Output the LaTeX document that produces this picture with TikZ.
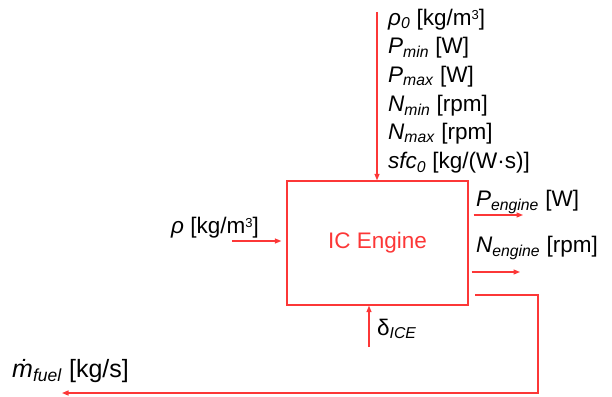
\documentclass[tikz,border=0pt]{standalone}
\usepackage{fontspec}
\setmainfont{Liberation Sans}
\usetikzlibrary{arrows.meta,positioning}
\definecolor{engred}{RGB}{252,55,55}
\newcommand{\varsub}[2]{\textit{#1}\textsubscript{\textit{#2}}}
\newcommand{\cubed}{\raisebox{0.45ex}{\fontsize{13}{13}\selectfont 3}}

\begin{document}
\begin{tikzpicture}[x=1pt, y=-1pt,
  >={Triangle[length=6.5pt,width=5pt]},
  font=\fontsize{22.5}{28.7}\selectfont,
  enginebox/.style={draw=engred, line width=1.3pt, minimum width=181pt,
                    minimum height=124pt, inner sep=0pt, text=engred},
  sig/.style={->, draw=engred, line width=1.3pt},
  lbl/.style={inner sep=0pt, anchor=base west},
]
\useasboundingbox (0,0) rectangle (612,396);

% Engine block
\node[enginebox] (ice) at (377.5,243) {IC Engine};

% Parameters from above
\coordinate (ptop) at (377,12);
\draw[sig] (ptop) -- (ptop |- ice.north);
\node[lbl, align=left, anchor=north west] (params) at (388,8.5)
  {\textit{ρ}\textsubscript{\textit{0}} [kg/m\cubed]\\
   \varsub{P}{min} [W]\\
   \varsub{P}{max} [W]\\
   \varsub{N}{min} [rpm]\\
   \varsub{N}{max} [rpm]\\
   \varsub{sfc}{0} [kg/(W·s)]};

% Ambient density input
\coordinate (rhoin) at (232,241);
\draw[sig, shorten >=5pt] (rhoin) -- (rhoin -| ice.west);
\node[lbl] (rholbl) at (171,233) {\textit{ρ} [kg/m\cubed]};

% Throttle input
\coordinate (dctl) at (369,347);
\draw[sig] (dctl) -- (dctl |- ice.south);
\node[lbl] (dlbl) at (377,335) {δ\textsubscript{\textit{ICE}}};

% Outputs
\coordinate (pout) at (523,215);
\draw[sig, shorten <=5pt] (ice.east |- pout) -- (pout);
\node[lbl] (plbl) at (476,206) {\varsub{P}{engine} [W]};

\coordinate (nout) at (520,272);
\draw[sig, shorten <=3pt] (ice.east |- nout) -- (nout);
\node[lbl] (nlbl) at (476,252) {\varsub{N}{engine} [rpm]};

% Fuel flow, routed round the bottom
\coordinate (fuelout) at (475,295);
\coordinate (fuelend) at (62,393);
\draw[sig] (fuelout) -- ++(63,0) |- (fuelend);
\node[lbl, font=\fontsize{25}{30}\selectfont] (mlbl) at (12,377)
  {\varsub{ṁ}{fuel} [kg/s]};

\end{tikzpicture}
\end{document}
